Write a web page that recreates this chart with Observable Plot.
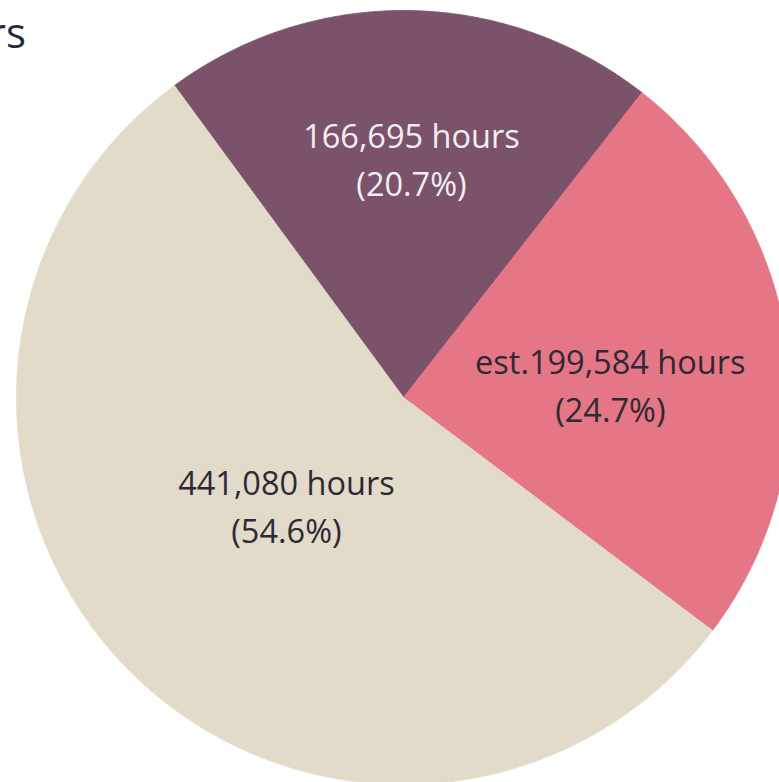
<!DOCTYPE html>
<html>
<head>
<meta charset="utf-8">
<script src="https://cdn.jsdelivr.net/npm/d3@7"></script>
<script src="https://cdn.jsdelivr.net/npm/@observablehq/plot@0.6"></script>
<style>
  html, body { margin: 0; padding: 0; background: #ffffff; }
  body { position: relative; width: 779px; height: 782px; overflow: hidden; }
  #title { position: absolute; right: 753px; top: 10.5px; white-space: nowrap;
           font-family: "Open Sans", sans-serif; font-size: 42px; line-height: 42px; color: #232a3e; z-index: 2; }
  #chart { position: absolute; left: 0; top: 0; }
</style>
</head>
<body>
<div id="title">Total: 807,359 hours</div>
<div id="chart"></div>
<script>
// ---- data ----
const categories = ["Slice A", "Slice B", "Slice C"];
const hours = [166695, 199584, 441080];
const hourLabels = ["166,695 hours", "est.199,584 hours", "441,080 hours"];
const percentLabels = ["(20.7%)", "(24.7%)", "(54.6%)"];

// ---- style / layout ----
const sliceColors = ["#7a536b", "#e47685", "#e3dbc9"];
const labelColors = ["#f4eef3", "#2d2935", "#2d2935"];
const labelRadius = [0.609, 0.535, 0.417];
const labelAngleShift = [1.07, 4.67, 1.14]; // degrees
const startDeg = -36.3;

const rad = Math.PI / 180;
const pie = d3.pie().sort(null)
  .startAngle(startDeg * rad)
  .endAngle(startDeg * rad + 2 * Math.PI)(hours);

const wedgePoints = [];
pie.forEach((p, i) => {
  const key = categories[i];
  wedgePoints.push({key, x: 0, y: 0});
  const n = Math.max(2, Math.ceil((p.endAngle - p.startAngle) / (Math.PI / 360)));
  for (let k = 0; k <= n; k++) {
    const a = p.startAngle + (p.endAngle - p.startAngle) * k / n;
    wedgePoints.push({key, x: Math.sin(a), y: Math.cos(a)});
  }
  wedgePoints.push({key, x: 0, y: 0});
});

const labels = pie.map((p, i) => {
  const a = (p.startAngle + p.endAngle) / 2 + labelAngleShift[i] * rad;
  return {
    x: labelRadius[i] * Math.sin(a),
    y: labelRadius[i] * Math.cos(a),
    text: hourLabels[i] + "\n" + percentLabels[i],
    color: labelColors[i]
  };
});

const W = 779, H = 782, cx = 403, cy = 397, R = 387;

const chart = Plot.plot({
  width: W,
  height: H,
  margin: 0,
  x: {domain: [-cx / R, (W - cx) / R], axis: null},
  y: {domain: [-(H - cy) / R, cy / R], axis: null},
  color: {domain: categories, range: sliceColors},
  style: {fontFamily: "'Open Sans', sans-serif", background: "transparent"},
  marks: [
    Plot.line(wedgePoints, {x: "x", y: "y", z: "key", fill: "key", stroke: "key", strokeWidth: 0.8, curve: "linear"}),
    Plot.text(labels.filter(d => d.color === labelColors[0]), {x: "x", y: "y", text: "text", fill: labelColors[0], fontSize: 32.5, lineHeight: 1.48, dy: -5}),
    Plot.text(labels.filter(d => d.color !== labelColors[0]), {x: "x", y: "y", text: "text", fill: labelColors[1], fontSize: 32.5, lineHeight: 1.48, dy: -5})
  ]
});
document.getElementById("chart").appendChild(chart);
</script>
</body>
</html>
